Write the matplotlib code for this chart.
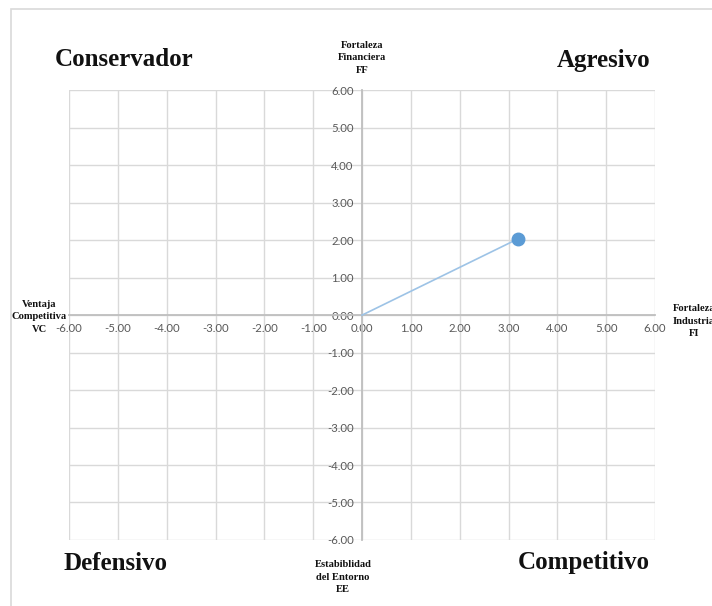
import numpy as np
import matplotlib.pyplot as plt
from matplotlib.patches import Rectangle

# vector from the origin to the strategic position (FI, FF)
vec_x = [0.0, 3.2]
vec_y = [0.0, 2.04]
ticks = np.arange(-6, 7, 1)

fig = plt.figure(figsize=(7.12, 6.06), dpi=100)
ax = fig.add_axes([0.097, 0.109, 0.823, 0.742])

# thin frame round the whole chart
fig.patches.append(Rectangle((11/712, -0.1), 1.2, 1 - 9/606 + 0.1, transform=fig.transFigure,
                             fill=False, edgecolor='#D9D9D9', linewidth=1.2))

ax.set_xlim(-6, 6)
ax.set_ylim(-6, 6)
ax.set_xticks(ticks)
ax.set_yticks(ticks)
ax.set_xticklabels([f"{t:.2f}" for t in ticks])
ax.set_yticklabels([f"{t:.2f}" for t in ticks])

# grid
for t in ticks:
    ax.axvline(t, color='#D9D9D9', linewidth=1, zorder=0)
    ax.axhline(t, color='#D9D9D9', linewidth=1, zorder=0)

for s in ['top', 'right']:
    ax.spines[s].set_visible(False)
ax.spines['left'].set_position('zero')
ax.spines['bottom'].set_position('zero')
ax.spines['left'].set_color('#BFBFBF')
ax.spines['bottom'].set_color('#BFBFBF')
ax.spines['left'].set_linewidth(1.3)
ax.spines['bottom'].set_linewidth(1.3)
ax.tick_params(length=0, labelsize=8.2, labelcolor='#595959', pad=6)
for lab in ax.get_xticklabels() + ax.get_yticklabels():
    lab.set_fontfamily('Lato')

ax.plot(vec_x, vec_y, color='#9DC3E6', linewidth=1.2, zorder=3)
ax.plot(vec_x[1], vec_y[1], 'o', color='#5B9BD5', markersize=9, zorder=4)

big = dict(family='Liberation Serif', fontweight='bold', fontsize=18, color='#111111',
           ha='center', va='center')
fig.text(124/712, 1 - 59/606, "Conservador", **big)
fig.text(604/712, 1 - 61/606, "Agresivo", **big)
fig.text(115/712, 1 - 563/606, "Defensivo", **big)
fig.text(584/712, 1 - 563/606, "Competitivo", **big)

small = dict(family='Liberation Serif', fontweight='bold', fontsize=7.6, color='#111111',
             ha='center', va='center', linespacing=1.5, multialignment='center')
fig.text(362/712, 1 - 58/606, "Fortaleza\nFinanciera\nFF", **small)
fig.text(39/712, 1 - 317/606, "Ventaja\nCompetitiva\nVC", **small)
fig.text(694/712, 1 - 321/606, "Fortaleza\nIndustria\nFI", **small)
fig.text(343/712, 1 - 577/606, "Estabiblidad\ndel Entorno\nEE", **small)

fig.savefig("out.png", dpi=100)
